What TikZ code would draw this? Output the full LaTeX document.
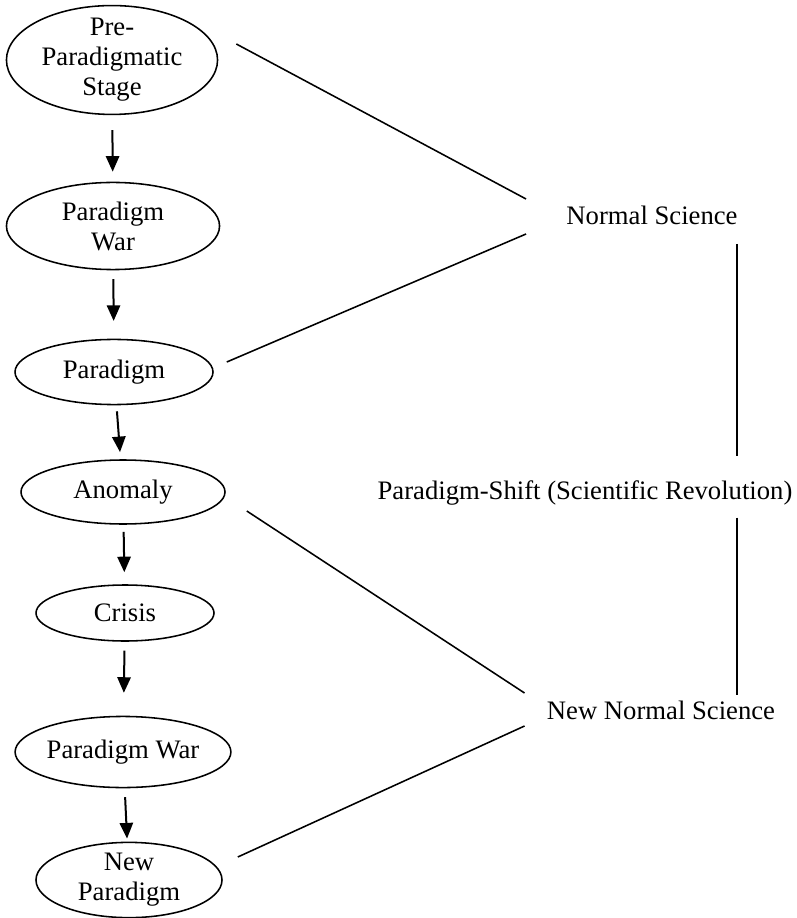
\documentclass[tikz,border=0pt]{standalone}
\usepackage{fontspec}
\setmainfont{Liberation Serif}
\usetikzlibrary{arrows.meta, calc, shapes.geometric}

\begin{document}
\begin{tikzpicture}[x=0.45pt, y=-0.45pt,
  font=\fontsize{12}{13.5}\selectfont,
  >={Triangle[width=6pt, length=7pt]},
  stage/.style={draw, ellipse, line width=0.7pt, align=center, inner sep=0pt},
  phase/.style={inner sep=0pt},
  link/.style={line width=0.7pt},
  flow/.style={->, line width=0.9pt}]

  \useasboundingbox (0,0) rectangle (796,918);

  % Kuhn cycle, left column
  \node[stage, minimum width=95pt, minimum height=49pt, inner ysep=-1.5pt] (pre) at (112,60) {Pre-\\Paradigmatic\\Stage};
  \node[stage, minimum width=95.9pt, minimum height=39.2pt] (pw)  at (113,226) {Paradigm\\War};
  \node[stage, minimum width=89.1pt, minimum height=29.3pt] (par) at (114,372) {Paradigm};
  \node[stage, minimum width=91.8pt, minimum height=28.8pt] (ano) at (123,492) {Anomaly};
  \node[stage, minimum width=80.1pt, minimum height=25.2pt] (cri) at (125,613) {Crisis};
  \node[stage, minimum width=92.3pt, minimum height=32pt]   (pw2) at (123,752) {Paradigm War};
  \node[stage, minimum width=83.7pt, minimum height=33.3pt] (np)  at (129,880) {New\\Paradigm};

  \draw[flow, shorten <=6.7pt, shorten >=4.5pt] (pre) -- (pw);
  \draw[flow, shorten <=4pt, shorten >=8pt]     (pw)  -- (par);
  \draw[flow, shorten <=2.7pt, shorten >=3.2pt] (par) -- (ano);
  \draw[flow, shorten <=3.2pt, shorten >=5.4pt] (ano) -- (cri);
  \draw[flow, shorten <=4pt, shorten >=10.3pt]  (cri) -- (pw2);
  \draw[flow, shorten <=4pt, shorten >=1.4pt]   (pw2) -- (np);

  % phases, right column
  \node[phase] (ns)    at (652,215) {Normal Science};
  \node[phase] (shift) at (585,493) {Paradigm-Shift (Scientific Revolution)};
  \node[phase] (nns)   at (661,710) {New Normal Science};

  \draw[link] ($(pre.east)+(18,-16)$) -- ($(ns.west)+(-40,-16)$);
  \draw[link] ($(par.east)+(13,-10)$) -- ($(ns.west)+(-40,19)$);
  \draw[link] ($(ano.east)+(21,19)$)  -- ($(nns.west)+(-22,-17)$);
  \draw[link] ($(np.east)+(15,-23)$)  -- ($(nns.west)+(-22,16)$);

  \coordinate (vx) at (737,0);
  \draw[link] ($(ns.south -| vx)+(0,19)$) -- ($(shift.north -| vx)+(0,-24)$);
  \draw[link] ($(shift.south -| vx)+(0,12)$) -- ($(nns.north -| vx)+(0,-5)$);
\end{tikzpicture}
\end{document}
